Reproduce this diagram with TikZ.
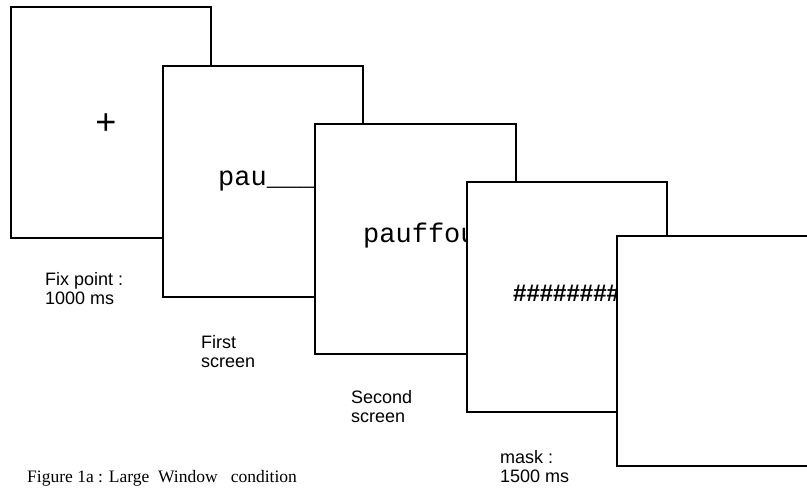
\documentclass[tikz,border=0pt]{standalone}
\usepackage{fontspec}
\setmainfont{Liberation Serif}
\setsansfont{Liberation Sans}
\setmonofont{Liberation Mono}

\begin{document}
\begin{tikzpicture}
	[
	x = {(1pt, 0pt)},
	y = {(0pt, -1pt)},
	screen/.style = {draw = black, fill = white, line width = 1.6pt},
	stimulus/.style = {inner sep = 0pt, font = \fontsize{27}{27}\selectfont\ttfamily},
	fixcross/.style = {inner sep = 0pt, font = \fontsize{36}{36}\selectfont\ttfamily},
	maskword/.style = {inner sep = 0pt, font = \fontsize{24}{24}\selectfont\sffamily\bfseries},
	timing/.style = {inner sep = 0pt, anchor = north west, align = left, font = \fontsize{18}{19.5}\selectfont\sffamily},
	caption/.style = {inner sep = 0pt, anchor = base west, font = \fontsize{17.5}{18}\selectfont\rmfamily}]
	
	\useasboundingbox (0, 0) rectangle (807, 491);
	
	%% Fixation point
	\draw[screen] (11, 7) rectangle (211, 238);
	\node[fixcross, anchor = center] (fix) at (106, 124) {+};
	
	%% First screen
	\draw[screen] (163, 66) rectangle (363, 297);
	\node[stimulus, anchor = base west] (first) at (218, 185) {pau\_\_\_\_\_};
	
	%% Second screen
	\draw[screen] (315, 124) rectangle (516, 354);
	\node[stimulus, anchor = base west] (second) at (363, 242) {pauffou};
	
	%% Mask
	\draw[screen] (467, 182) rectangle (667, 412);
	\node[maskword, anchor = base west] (mask) at (513, 301) {\#\#\#\#\#\#\#\#\#\#};
	
	%% Blank screen
	\draw[screen] (617, 236) rectangle (817, 466);
	
	%% Labels
	\node[timing] (fixlabel) at (45, 272) {Fix point :\\1000 ms};
	\node[timing] (firstlabel) at (201, 335) {First\\screen};
	\node[timing] (secondlabel) at (351, 390) {Second\\screen};
	\node[timing] (masklabel) at (500, 450) {mask :\\1500 ms};
	
	\node[caption] (figcaption) at (27, 482) {Figure 1a : Large\ \ Window\ \ \ condition};
\end{tikzpicture}
\end{document}
